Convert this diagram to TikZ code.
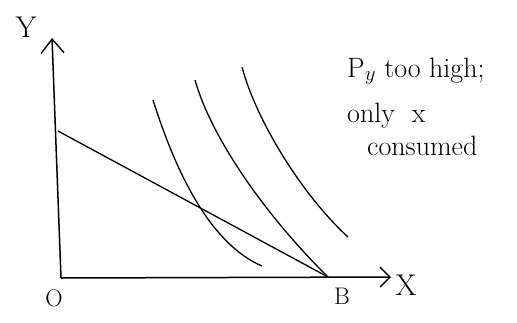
\documentclass[tikz,border=0pt]{standalone}
\usetikzlibrary{arrows.meta}
\begin{document}
\begin{tikzpicture}[x=1pt,y=-1pt,
  ax/.style={line width=1.5pt},
  curve/.style={line width=1.3pt},
  lbl/.style={font=\fontsize{24}{28}\selectfont,inner sep=0pt},
  biglbl/.style={font=\fontsize{30}{34}\selectfont,inner sep=0pt},
  note/.style={font=\fontsize{28}{31}\selectfont,inner sep=0pt,anchor=base west}]
\useasboundingbox (0,0) rectangle (517,322);
\coordinate (O) at (61,278);
\coordinate (Ytip) at (52,38);
\coordinate (Xtip) at (391,277);
\coordinate (A) at (58,131);
\coordinate (B) at (328,277);
\draw[ax,-{Straight Barb[length=14pt,width=23pt,line width=1.4pt]}] (O) -- (Ytip);
\draw[ax,-{Straight Barb[length=10pt,width=20pt,line width=1.4pt]}] (O) -- (Xtip);
\node[biglbl] (ylab) at (26,27) {Y};
\node[biglbl] (xlab) at (406,285) {X};
\node[lbl] (olab) at (54,298) {O};
\node[lbl] (blab) at (342,296) {B};
\draw[curve] (A) -- (B);
\draw[curve] (153,100) .. controls (183,195) and (220,248) .. (262,266);
\draw[curve] (195,80) .. controls (212,140) and (268,218) .. (B);
\draw[curve] (242,67) .. controls (256,120) and (302,195) .. (348,237);
\node[note] (n1) at (347,77) {P$_y$ too high;};
\node[note] (n2) at (347,122) {only \ x};
\node[note] (n3) at (367,155) {consumed};
\end{tikzpicture}
\end{document}
